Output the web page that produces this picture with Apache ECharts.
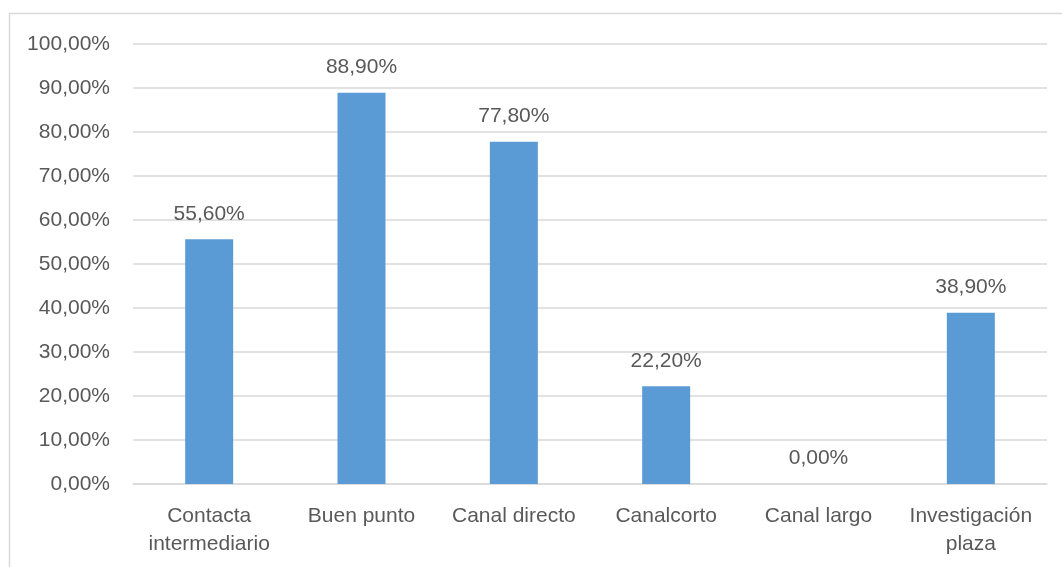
<!DOCTYPE html>
<html>
<head>
<meta charset="utf-8">
<script src="https://cdn.jsdelivr.net/npm/echarts@6/dist/echarts.min.js"></script>
<style>
  html, body { margin: 0; padding: 0; background: #ffffff; }
  #chart { width: 1062px; height: 567px; }
</style>
</head>
<body>
<div id="chart"></div>
<script>
// Categories and their shares (percent)
const categories = ['Contacta\nintermediario', 'Buen punto', 'Canal directo', 'Canalcorto', 'Canal largo', 'Investigación\nplaza'];
const shares = [55.6, 88.9, 77.8, 22.2, 0, 38.9];

// Value axis range
const yMin = 0;
const yMax = 100;
const yStep = 10;

const fmtPct = v => v.toFixed(2).replace('.', ',') + '%';

const textColor = '#595959';
const fontFamily = '"Liberation Sans", Arial, sans-serif';

const chart = echarts.init(document.getElementById('chart'), null, { renderer: 'canvas' });

chart.setOption({
  animation: false,
  backgroundColor: '#ffffff',
  graphic: [{
    type: 'rect',
    shape: { x: 9.5, y: 13.5, width: 1100, height: 600 },
    style: { fill: 'none', stroke: '#D9D9D9', lineWidth: 1.5 },
    silent: true
  }],
  grid: { left: 133, right: 15, top: 44, bottom: 83, containLabel: false },
  xAxis: {
    type: 'category',
    data: categories,
    axisLine: { show: true, lineStyle: { color: '#D9D9D9', width: 1.5 } },
    axisTick: { show: false },
    axisLabel: {
      color: textColor,
      fontFamily: fontFamily,
      fontSize: 21,
      lineHeight: 28,
      margin: 18,
      interval: 0
    }
  },
  yAxis: {
    type: 'value',
    min: yMin,
    max: yMax,
    interval: yStep,
    axisLine: { show: false },
    axisTick: { show: false },
    splitLine: { lineStyle: { color: '#D9D9D9', width: 1.5 } },
    axisLabel: {
      color: textColor,
      fontFamily: fontFamily,
      fontSize: 21,
      margin: 23,
      formatter: v => fmtPct(v)
    }
  },
  series: [{
    type: 'bar',
    data: shares,
    barWidth: 48,
    itemStyle: { color: '#5B9BD5' },
    label: {
      show: true,
      position: 'top',
      distance: 15,
      color: textColor,
      fontFamily: fontFamily,
      fontSize: 21,
      formatter: p => fmtPct(p.value)
    }
  }]
});
</script>
</body>
</html>
